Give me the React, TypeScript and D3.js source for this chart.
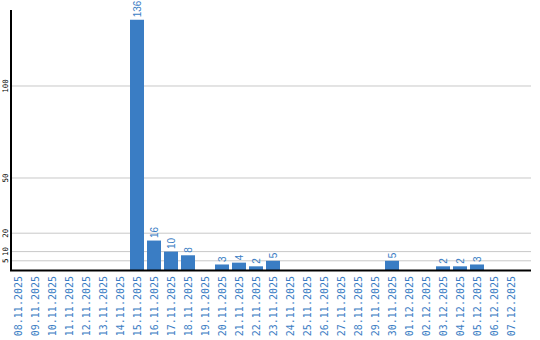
import React from "react";
import * as d3 from "d3";

const categories = [
  "08.11.2025","09.11.2025","10.11.2025","11.11.2025","12.11.2025","13.11.2025","14.11.2025",
  "15.11.2025","16.11.2025","17.11.2025","18.11.2025","19.11.2025","20.11.2025","21.11.2025",
  "22.11.2025","23.11.2025","24.11.2025","25.11.2025","26.11.2025","27.11.2025","28.11.2025",
  "29.11.2025","30.11.2025","01.12.2025","02.12.2025","03.12.2025","04.12.2025","05.12.2025",
  "06.12.2025","07.12.2025",
];
const values = [0,0,0,0,0,0,0,136,16,10,8,0,3,4,2,5,0,0,0,0,0,0,5,0,0,2,2,3,0,0];
const yTicks = [5, 10, 20, 50, 100];

const W = 540, H = 340;
const left = 11, right = 531, top = 10, bottom = 270;
const barColor = "#3a7dc4";

export default function App() {
  const y = d3.scaleLinear().domain([0, 141.3]).range([bottom, top]);
  const x = d3.scaleBand<string>().domain(categories).range([left, left + 507])
    .paddingInner(3 / 17).paddingOuter(0);
  const bw = x.bandwidth();
  return (
    <svg width={W} height={H} style={{ position: "absolute", left: 0, top: 0, background: "#fff" }}>
      {yTicks.map((t) => (
        <g key={t}>
          <line x1={left} x2={right} y1={y(t)} y2={y(t)} stroke="#c8c8c8" strokeWidth={1} />
          <text
            transform={`translate(8,${y(t)}) rotate(-90)`}
            textAnchor="middle"
            fontFamily="DejaVu Sans Mono"
            fontSize={7.5}
            fill="#000"
          >
            {t}
          </text>
        </g>
      ))}
      {categories.map((c, i) => {
        const v = values[i];
        const bx = x(c) as number;
        const cx = bx + bw / 2;
        return (
          <g key={c}>
            {v > 0 && (
              <>
                <rect x={bx} y={y(v)} width={bw} height={bottom - y(v)} fill={barColor} />
                <text
                  transform={`translate(${cx + 3.5},${y(v) - 2.5}) rotate(-90)`}
                  textAnchor="start"
                  fontFamily="Liberation Sans, Arial, sans-serif"
                  fontSize={10}
                  fill={barColor}
                >
                  {v}
                </text>
              </>
            )}
            <text
              transform={`translate(${cx + 3.5},276) rotate(-90)`}
              textAnchor="end"
              fontFamily="DejaVu Sans Mono"
              fontSize={10}
              fill={barColor}
            >
              {c}
            </text>
          </g>
        );
      })}
      <line x1={left} x2={left} y1={top} y2={bottom + 1} stroke="#000" strokeWidth={2} />
      <line x1={left - 1} x2={right} y1={bottom + 0.5} y2={bottom + 0.5} stroke="#000" strokeWidth={2} />
    </svg>
  );
}
